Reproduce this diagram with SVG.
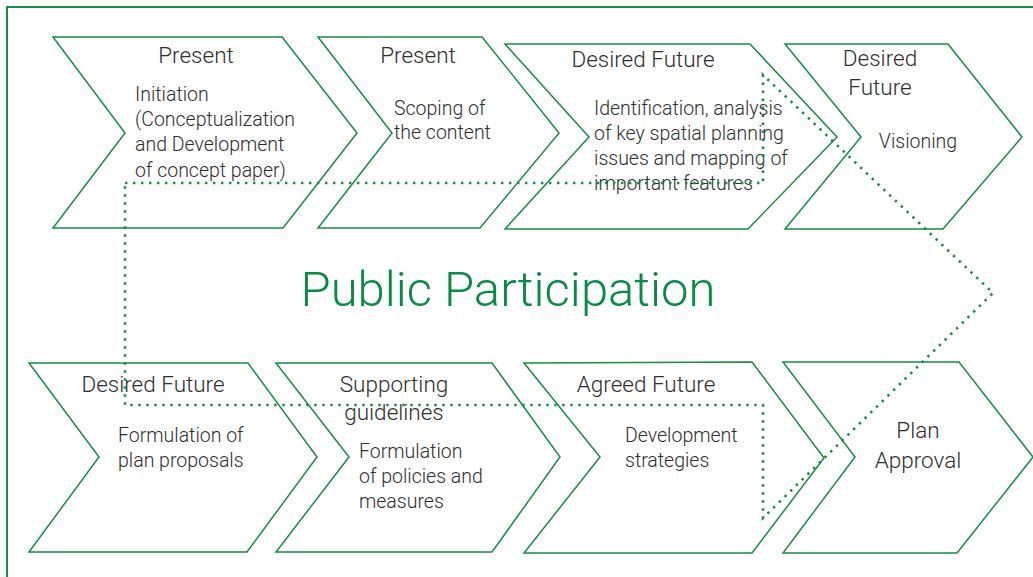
<svg xmlns="http://www.w3.org/2000/svg" width="1033" height="577" viewBox="0 0 1033 577">
<style>
.chev{fill:#fff;stroke:#1a8a45;stroke-width:1.5;stroke-linejoin:miter}
.t{font-family:Roboto,"Liberation Sans",sans-serif;font-weight:300;fill:#2e2e2e;font-size:22.5px}
.b{font-family:Roboto,"Liberation Sans",sans-serif;font-weight:300;fill:#2e2e2e;font-size:19.5px}
.c{text-anchor:middle}
.dot{fill:none;stroke:#1a8a45;stroke-width:2.6;stroke-dasharray:2.4 5.6}
</style>
<rect x="0" y="0" width="1033" height="577" fill="#fff"/>
<rect x="7" y="7" width="1040" height="580" fill="none" stroke="#1a8a45" stroke-width="2"/>
<g id="n1"><polygon class="chev" points="53,37 282,37 357,133 283,228 53,228 125,133"/>
<text class="t c" x="196" y="63">Present</text>
<text class="b" x="135" y="101">Initiation</text>
<text class="b" x="135" y="126">(Conceptualization</text>
<text class="b" x="135" y="151">and Development</text>
<text class="b" x="135" y="177">of concept paper)</text></g>
<g id="n2"><polygon class="chev" points="318,37 482,37 559,133 480,228 318,228 392,133"/>
<text class="t c" x="418" y="63">Present</text>
<text class="b" x="394" y="115">Scoping of</text>
<text class="b" x="394" y="139">the content</text></g>
<g id="n3"><polygon class="chev" points="505,44 750,44 837,137 748,229 505,229 589,137"/>
<text class="t c" x="643" y="67">Desired Future</text>
<text class="b" x="594" y="115">Identification, analysis</text>
<text class="b" x="594" y="140">of key spatial planning</text>
<text class="b" x="594" y="165">issues and mapping of</text>
<text class="b" x="594" y="190">important  features</text></g>
<g id="n4"><polygon class="chev" points="785,44 948,44 1022,137 943,229 785,229 861,137"/>
<text class="t c" x="880" y="66">Desired</text>
<text class="t c" x="880" y="95">Future</text>
<text class="b c" x="918" y="148">Visioning</text></g>
<g id="n5"><polygon class="chev" points="29,363 248,363 317,457 247,552 29,552 99,457"/>
<text class="t c" x="153" y="392">Desired Future</text>
<text class="b" x="118" y="442">Formulation of</text>
<text class="b" x="118" y="467">plan proposals</text></g>
<g id="n6"><polygon class="chev" points="276,363 492,363 560,457 492,552 276,552 349,457"/>
<text class="t c" x="394" y="392">Supporting</text>
<text class="t c" x="394" y="420">guidelines</text>
<text class="b" x="359" y="458">Formulation</text>
<text class="b" x="359" y="483">of policies and</text>
<text class="b" x="359" y="508">measures</text></g>
<g id="n7"><polygon class="chev" points="524,363 752,362 824,458 752,553 524,553 600,457"/>
<text class="t c" x="646" y="392">Agreed Future</text>
<text class="b" x="625" y="442">Development</text>
<text class="b" x="625" y="467">strategies</text></g>
<g id="n8"><polygon class="chev" points="783,362 959,362 1033,457 957,553 783,553 855,457"/>
<text class="t c" x="918" y="438">Plan</text>
<text class="t c" x="918" y="468">Approval</text></g>
<g id="connectors">
<polygon class="dot" points="125,183 763,183 763,75 993,293 763,518 763,405 125,405"/>
</g>
<text x="508" y="306" text-anchor="middle" font-family="Roboto,'Liberation Sans',sans-serif" font-weight="300" font-size="49" fill="#0a8a45">Public Participation</text>
</svg>
